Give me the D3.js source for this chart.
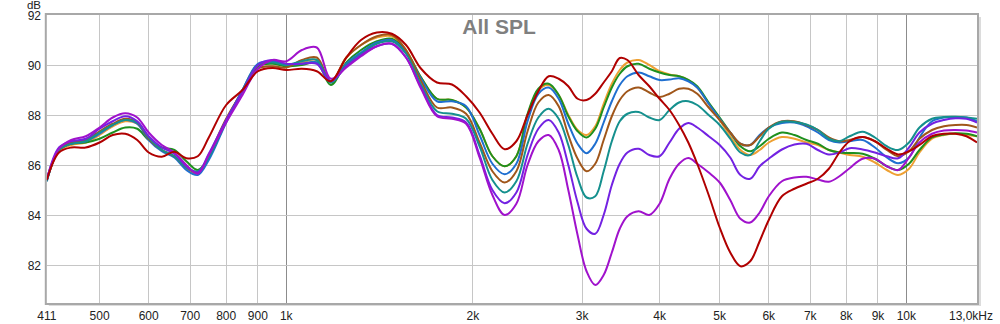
<!DOCTYPE html>
<html><head><meta charset="utf-8">
<script src="https://cdn.jsdelivr.net/npm/d3@7"></script>
<style>
html,body{margin:0;padding:0;background:#fff;}
svg{display:block;}
text{font-family:"Liberation Sans",Arial,sans-serif;}
</style></head>
<body>
<svg id="chart" width="1000" height="324"></svg>
<script>
const freqs = [411,430,450,475,500,525,550,575,600,630,660,690,720,750,800,850,900,950,1000,
 1060,1120,1180,1250,1320,1400,1480,1560,1650,1750,1850,1950,
 2050,2150,2250,2350,2450,2550,2650,2750,2850,2950,3050,3150,3250,3350,3450,3550,3700,3850,4000,4150,4300,4450,4600,4800,5000,
 5200,5400,5600,5800,6000,6300,6600,6900,7200,7500,7800,8100,8500,8900,9300,9700,10100,10500,11000,11500,12000,12500,13000];

const orange = [85.4,86.55,86.8,86.9,87.2,87.55,87.75,87.65,87.1,86.6,86.35,85.85,85.65,86.35,87.8,88.95,89.95,90.1,90.0,
 90.1,90.2,89.3,90.3,90.8,91.1,91.15,90.6,89.5,88.65,88.6,88.3,
 87.45,86.35,85.95,86.35,88.0,89.0,89.2,88.8,88.0,87.4,87.2,87.55,88.45,89.25,89.8,90.1,90.2,90.0,89.75,89.62,89.55,89.4,89.1,88.45,87.8,
 87.15,86.6,86.4,86.6,86.9,87.12,87.05,86.9,86.8,86.6,86.5,86.4,86.33,86.1,85.8,85.6,85.85,86.5,87.05,87.2,87.25,87.2,87.15];
const green = [85.4,86.6,86.85,86.9,87.05,87.3,87.5,87.45,87.0,86.7,86.6,86.15,85.8,86.3,87.75,88.95,89.95,90.05,89.95,
 90.0,90.1,89.2,90.1,90.6,90.95,91.05,90.55,89.5,88.65,88.6,88.3,
 87.45,86.35,85.95,86.35,88.05,89.05,89.25,88.8,87.95,87.35,87.1,87.45,88.3,89.1,89.65,89.95,90.05,89.85,89.7,89.6,89.55,89.4,89.15,88.5,87.9,
 87.3,86.75,86.55,86.75,87.05,87.3,87.2,87.0,86.85,86.6,86.5,86.48,86.45,86.25,85.95,85.8,86.05,86.6,87.1,87.22,87.27,87.25,87.15];
const blue = [85.35,86.6,86.85,86.95,87.25,87.6,87.8,87.65,87.0,86.55,86.3,85.8,85.6,86.2,87.7,89.0,90.05,90.15,90.0,
 90.05,90.1,89.3,90.05,90.5,90.9,91.0,90.5,89.45,88.55,88.55,88.35,
 87.2,86.05,85.63,86.05,87.75,88.85,89.1,88.65,87.65,86.85,86.47,86.85,87.7,88.55,89.2,89.55,89.7,89.55,89.4,89.42,89.47,89.35,89.1,88.45,87.85,
 87.3,86.85,86.8,87.2,87.5,87.68,87.7,87.55,87.3,87.0,86.9,86.95,87.0,86.7,86.3,86.07,86.3,87.1,87.75,87.9,87.92,87.9,87.75];
const brown = [85.4,86.6,86.9,87.0,87.35,87.65,87.85,87.7,87.05,86.6,86.35,85.9,85.7,86.4,87.85,88.95,89.85,89.95,89.9,
 90.2,90.3,89.35,90.3,90.8,91.15,91.2,90.6,89.35,88.3,88.3,88.05,
 86.9,85.75,85.3,85.75,87.35,88.5,88.8,88.35,87.2,86.25,85.75,86.05,87.0,87.95,88.6,88.95,89.1,88.9,88.72,88.85,89.05,89.05,88.85,88.3,87.8,
 87.3,86.85,86.8,87.15,87.5,87.75,87.75,87.6,87.4,87.1,86.95,87.0,87.12,86.95,86.6,86.35,86.55,87.05,87.4,87.55,87.6,87.6,87.5];
const teal = [85.35,86.6,86.85,86.95,87.3,87.6,87.8,87.7,87.1,86.6,86.35,85.9,85.75,86.3,87.75,89.0,90.0,90.1,90.0,
 90.15,90.2,89.3,90.0,90.45,90.85,90.95,90.45,89.2,88.15,88.05,87.85,
 86.75,85.4,84.9,85.35,86.85,87.9,88.25,87.85,86.8,85.5,84.7,84.75,85.75,86.95,87.75,88.05,88.12,87.9,87.8,88.2,88.5,88.55,88.4,88.0,87.6,
 87.05,86.5,86.4,86.95,87.45,87.73,87.72,87.62,87.4,87.05,86.95,87.15,87.33,87.1,86.75,86.6,86.9,87.5,87.85,87.92,87.93,87.9,87.85];
const violet = [85.4,86.7,86.95,87.05,87.45,87.75,87.95,87.75,87.15,86.7,86.45,85.95,85.7,86.45,87.8,88.95,90.0,90.2,90.05,
 90.05,90.05,89.35,89.95,90.4,90.75,90.85,90.3,89.1,88.0,87.9,87.7,
 86.4,85.0,84.47,84.9,86.4,87.45,87.8,87.3,86.0,84.5,83.45,83.25,84.0,85.2,86.05,86.5,86.65,86.4,86.35,86.9,87.45,87.68,87.5,87.15,86.8,
 86.3,85.6,85.45,85.95,86.25,86.62,86.82,86.85,86.6,86.42,86.5,86.67,86.62,86.5,86.35,86.27,86.7,87.3,87.65,87.8,87.87,87.85,87.7];
const purple = [85.45,86.65,87.0,87.15,87.5,87.9,88.07,87.9,87.3,86.8,86.5,86.0,85.65,86.4,87.7,88.8,89.85,90.2,90.15,
 90.6,90.7,89.45,89.9,90.35,90.75,90.85,90.3,89.05,87.95,87.85,87.65,
 86.3,84.8,84.0,84.45,86.0,86.95,87.2,86.6,85.0,83.2,81.75,81.2,81.6,82.5,83.45,83.95,84.15,84.0,84.45,85.45,86.05,86.28,86.05,85.7,85.3,
 84.6,83.85,83.7,84.1,84.75,85.35,85.5,85.53,85.42,85.33,85.55,85.87,86.25,86.25,85.95,85.8,86.3,86.9,87.25,87.38,87.4,87.38,87.3];
const red = [85.4,86.5,86.7,86.7,86.9,87.2,87.25,87.0,86.5,86.33,86.53,86.27,86.35,87.1,88.4,89.0,89.75,89.88,89.8,
 89.85,89.75,89.35,90.3,91.0,91.3,91.25,90.8,89.85,89.3,89.22,88.75,
 88.1,87.25,86.63,86.95,88.0,88.95,89.55,89.45,89.15,88.65,88.6,88.85,89.3,89.75,90.28,90.2,89.6,89.15,88.65,88.2,87.6,86.9,86.05,84.8,83.5,
 82.5,81.95,82.15,82.95,83.8,84.75,85.05,85.25,85.45,85.85,86.5,86.95,87.12,86.95,86.65,86.42,86.55,86.8,87.15,87.25,87.25,87.15,86.9];

const seriesNames = ["orange","green","blue","brown","teal","violet","purple","red"];
const seriesValues = [orange, green, blue, brown, teal, violet, purple, red];
const seriesColors = ["#eea032","#1e901e","#1f6fd0","#a0561a","#15908e","#7322e2","#a012cc","#b00000"];

const yTicks = [82,84,86,88,90,92];
const xTicks = [411,500,600,700,800,900,1000,2000,3000,4000,5000,6000,7000,8000,9000,10000];
const xTickLabels = ["411","500","600","700","800","900","1k","2k","3k","4k","5k","6k","7k","8k","9k","10k"];
const xEndLabel = "13,0kHz";
const titleText = "All SPL";
const yUnit = "dB";

const svg = d3.select("#chart");
const L = 46.8, R = 977, T = 15, B = 303;
const x = d3.scaleLog().domain([411, 13000]).range([L, R]);
const y = d3.scaleLinear().domain([80.48, 92]).range([B, T]);

// frame shadow
svg.append("rect").attr("x", L+2).attr("y", T+2).attr("width", R-L+2).attr("height", B-T+1)
  .attr("fill", "#dcdcdc");
svg.append("rect").attr("x", L).attr("y", T).attr("width", R-L).attr("height", B-T).attr("fill", "#fff");

// gridlines
const g = svg.append("g");
xTicks.filter(v => v > 411).forEach(v => {
  g.append("line").attr("x1", x(v)).attr("x2", x(v)).attr("y1", T).attr("y2", B)
   .attr("stroke", (v === 1000 || v === 10000) ? "#8c8c8c" : "#c6c6c6").attr("stroke-width", 1)
   .attr("shape-rendering", "crispEdges");
});
yTicks.filter(v => v < 92).forEach(v => {
  g.append("line").attr("x1", L).attr("x2", R).attr("y1", y(v)).attr("y2", y(v))
   .attr("stroke", "#c6c6c6").attr("stroke-width", 1).attr("shape-rendering", "crispEdges");
});

// title
svg.append("text").attr("x", 499).attr("y", 34).attr("text-anchor", "middle")
  .attr("font-size", 21).attr("font-weight", "bold").attr("fill", "#7f7f7f").text(titleText);

// curves
const line = d3.line().x((d, i) => x(freqs[i])).y(d => y(d)).curve(d3.curveCatmullRom.alpha(0.5));
const clip = svg.append("clipPath").attr("id", "clip").append("rect")
  .attr("x", L).attr("y", T).attr("width", R-L).attr("height", B-T);
const cg = svg.append("g").attr("clip-path", "url(#clip)");
seriesValues.forEach((vals, k) => {
  cg.append("path").attr("d", line(vals)).attr("fill", "none")
    .attr("stroke", seriesColors[k]).attr("stroke-width", 2).attr("stroke-linejoin", "round");
});

// frame border
svg.append("rect").attr("x", L-1).attr("y", T-1).attr("width", R-L+2).attr("height", B-T+2)
  .attr("fill", "none").attr("stroke", "#a8a8a8").attr("stroke-width", 2);

// y axis labels
yTicks.forEach(v => {
  svg.append("text").attr("x", 41).attr("y", y(v)).attr("dy", "0.38em").attr("text-anchor", "end")
    .attr("font-size", 12).attr("fill", "#222").text(v);
});
svg.append("text").attr("x", 41).attr("y", 8.5).attr("text-anchor", "end")
  .attr("font-size", 11.5).attr("fill", "#222").text(yUnit);

// x axis labels
xTicks.forEach((v, i) => {
  svg.append("text").attr("x", x(v)).attr("y", 320).attr("text-anchor", "middle")
    .attr("font-size", 12).attr("fill", "#222").text(xTickLabels[i]);
});
svg.append("text").attr("x", 993).attr("y", 320).attr("text-anchor", "end")
  .attr("font-size", 12).attr("fill", "#222").text(xEndLabel);
</script>
</body></html>
